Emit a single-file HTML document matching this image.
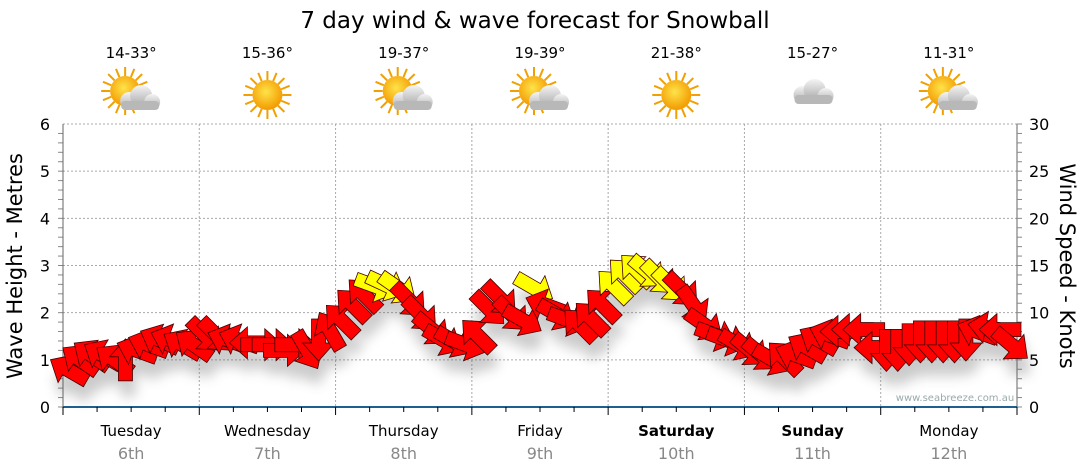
<!DOCTYPE html>
<html><head><meta charset="utf-8"><style>
body{margin:0;background:#fff;}
svg{display:block;font-family:"DejaVu Sans","Liberation Sans",sans-serif;}
</style></head><body>
<svg id="c" width="1080" height="475">
<defs>
<filter id="sh" x="-50%" y="-50%" width="200%" height="200%"><feGaussianBlur stdDeviation="6"/></filter>
<radialGradient id="sun" cx="45%" cy="40%" r="60%"><stop offset="0" stop-color="#ffe34a"/><stop offset="1" stop-color="#f29a00"/></radialGradient>
<linearGradient id="cl" x1="0" y1="0" x2="0" y2="1"><stop offset="0" stop-color="#f4f4f4"/><stop offset="1" stop-color="#a8a8a8"/></linearGradient>
</defs>
<text x="535" y="28" font-size="23" text-anchor="middle" fill="#000">7 day wind &amp; wave forecast for Snowball</text>
<g id="grid"></g><g id="hdr"></g><g id="axes"></g>
<g id="shadows" filter="url(#sh)" opacity="0.3"></g>
<g id="arrows"></g>
<text x="955" y="401" font-size="10" fill="#9aa" text-anchor="middle">www.seabreeze.com.au</text>
</svg>
<script>
const days=["Tuesday","Wednesday","Thursday","Friday","Saturday","Sunday","Monday"];
const dates=["6th","7th","8th","9th","10th","11th","12th"];
const boldDays=[false,false,false,false,true,true,false];
const temps=["14-33°","15-36°","19-37°","19-39°","21-38°","15-27°","11-31°"];
const icons=["partly","sun","partly","partly","sun","cloud","partly"];
const waveTicks=[0,1,2,3,4,5,6];
const windTicks=[0,5,10,15,20,25,30];
const windSpeed=[3.9,5.0,5.5,5.5,5.0,5.0,6.0,6.6,7.1,7.1,6.6,6.6,
7.6,7.6,7.1,7.1,6.8,6.6,6.6,6.0,6.6,6.0,7.1,8.1,
9.2,10.8,11.9,12.8,12.9,12.6,11.3,9.8,8.2,7.1,6.9,6.6,
7.6,10.4,11.5,9.8,9.2,12.6,10.8,9.8,9.2,8.7,9.4,10.8,
12.8,14.0,14.5,14.3,13.7,12.9,12.4,10.8,8.7,7.6,7.1,6.6,
6.0,5.5,5.0,5.2,5.5,6.3,7.1,7.6,8.0,8.2,8.2,6.3,
6.0,6.0,6.6,6.9,6.9,6.9,6.9,7.1,8.0,8.4,8.2,6.6];
const windDir=[210,215,215,210,215,270,200,200,205,200,210,215,
45,45,200,200,180,0,0,0,0,60,90,240,
225,225,225,20,25,35,45,45,40,30,30,20,
225,45,45,45,30,30,200,30,20,225,225,225,
225,225,225,40,45,45,45,55,35,20,20,30,
40,40,30,225,200,210,210,200,180,180,180,180,
90,90,90,90,90,90,90,90,200,190,180,40];
const NS="http://www.w3.org/2000/svg";
const X0=63,X1=1017,Y0=407,Y1=124;
const dayW=(X1-X0)/7;
const yWave=v=>Y0-(v/6)*(Y0-Y1);
const yWind=v=>Y0-(v/30)*(Y0-Y1);
const xIdx=i=>X0+(i+0.5)*(X1-X0)/windSpeed.length;
function mk(tag,attrs,parent){const e=document.createElementNS(NS,tag);for(const k in attrs)e.setAttribute(k,attrs[k]);parent.appendChild(e);return e;}
const grid=document.getElementById('grid'),axes=document.getElementById('axes'),hdr=document.getElementById('hdr');
waveTicks.forEach(t=>{if(t>0){const l=mk('line',{x1:X0,x2:X1,y1:yWave(t),y2:yWave(t),stroke:'#aaa','stroke-dasharray':'2,2'},grid);

}
const tx=mk('text',{x:50,y:yWave(t)+6,'font-size':16,'text-anchor':'end'},axes);tx.textContent=t;

});
windTicks.forEach(t=>{const tx=mk('text',{x:1029,y:yWind(t)+6,'font-size':16},axes);tx.textContent=t;

});
for(let v=0;v<=6;v+=0.2){mk('line',{x1:58,x2:63,y1:yWave(v),y2:yWave(v),stroke:'#888'},axes);}
mk('line',{x1:63,x2:63,y1:Y1,y2:Y0,stroke:'#666'},axes);
mk('line',{x1:1017,x2:1017,y1:Y1,y2:Y0,stroke:'#666'},axes);
for(let v=0;v<=30;v+=1){mk('line',{x1:1017,x2:1022,y1:yWind(v),y2:yWind(v),stroke:'#888'},axes);}
const base=mk('line',{x1:X0,x2:X1,y1:Y0,y2:Y0,stroke:'#1f5f8f','stroke-width':2},axes);


for(let d=0;d<=7;d++){const x=X0+d*dayW;
if(d>0&&d<7)mk('line',{x1:x,x2:x,y1:Y1,y2:Y0,stroke:'#aaa','stroke-dasharray':'2,2'},grid);
mk('line',{x1:x,x2:x,y1:Y0,y2:Y0+8,stroke:'#000'},axes);
if(d<7){for(let q=1;q<4;q++)mk('line',{x1:x+q*dayW/4,x2:x+q*dayW/4,y1:Y0,y2:Y0+5,stroke:'#000'},axes);}}
days.forEach((d,i)=>{const cx=X0+(i+0.5)*dayW;
const t=mk('text',{x:cx,y:436,'font-size':15,'text-anchor':'middle','font-weight':boldDays[i]?'bold':'normal'},axes);t.textContent=d;


const t2=mk('text',{x:cx,y:459,'font-size':16,'text-anchor':'middle',fill:'#888'},axes);t2.textContent=dates[i];


const t3=mk('text',{x:cx,y:58,'font-size':15,'text-anchor':'middle'},hdr);t3.textContent=temps[i];


const g=mk('g',{transform:`translate(${cx},95)`},hdr);


const k=icons[i];
if(k!=='cloud'){const sx=k==='sun'?0:-6,sy=k==='sun'?0:-4;
for(let a=0;a<360;a+=22.5){const r=a*Math.PI/180;mk('line',{x1:sx+Math.cos(r)*15,y1:sy+Math.sin(r)*15,x2:sx+Math.cos(r)*24,y2:sy+Math.sin(r)*24,stroke:'#f0a000','stroke-width':2},g);}
mk('circle',{cx:sx,cy:sy,r:15,fill:'url(#sun)'},g);}
if(k!=='sun'){const ox=k==='cloud'?0:8,oy=k==='cloud'?-2:4;
mk('circle',{cx:ox-10,cy:oy+2,r:9,fill:'url(#cl)'},g);mk('circle',{cx:ox+2,cy:oy-3,r:11,fill:'url(#cl)'},g);mk('circle',{cx:ox+13,cy:oy+3,r:8,fill:'url(#cl)'},g);
mk('rect',{x:ox-18,y:oy+2,width:38,height:9,rx:4,fill:'#b8b8b8'},g);}});
const lt=mk('text',{transform:'translate(22,266) rotate(-90)','font-size':21,'text-anchor':'middle'},axes);lt.textContent='Wave Height - Metres';


const rt=mk('text',{transform:'translate(1060,266) rotate(90)','font-size':21,'text-anchor':'middle'},axes);rt.textContent='Wind Speed - Knots';


const arrowPts="-21,-7 3,-7 3,-16 21,0 3,16 3,7 -21,7";
const sg=document.getElementById('shadows'),ag=document.getElementById('arrows');
windSpeed.forEach((s,i)=>{const x=xIdx(i),y=yWind(s);
mk('polygon',{points:arrowPts,transform:`translate(${x+3},${y+16}) rotate(${windDir[i]})`,fill:'#555'},sg);
const p=mk('polygon',{points:arrowPts,transform:`translate(${x},${y}) rotate(${windDir[i]})`,fill:s>=12.5?'#ffff00':'#ff0000',stroke:'#400','stroke-width':0.8},ag);

});
</script>
</body></html>
